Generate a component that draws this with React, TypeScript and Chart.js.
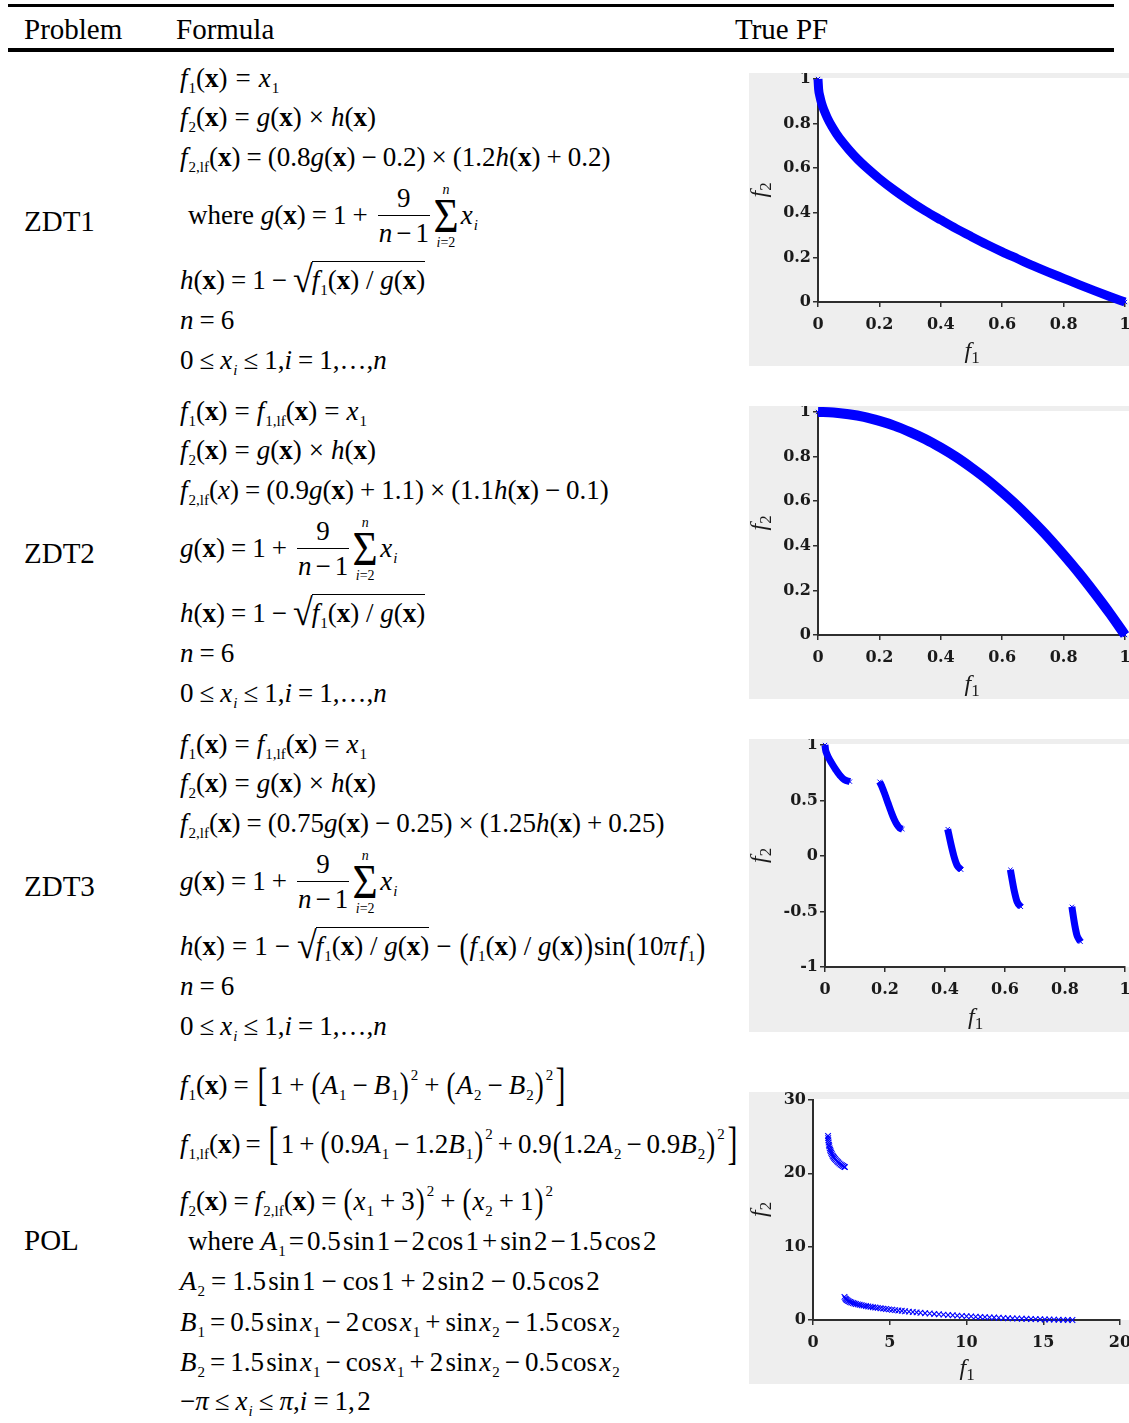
import React, { useEffect, useRef } from "react";
import { Chart, registerables } from "chart.js";

Chart.register(...registerables);

const SERIF = '"Liberation Serif", "Times New Roman", Times, serif';
const TICK_FAMILY = '"DejaVu Serif", "Liberation Serif", serif';
const BLUE = "#0000ff";
const AXIS = "#2e2e2e";
const PANEL_BG = "#eeeeee";

// ---- True Pareto fronts, sampled as (f1, f2) ----
const zdt1F1 = [0, 0.002, 0.006, 0.012, 0.02, 0.03, 0.045, 0.06, 0.08, 0.1, 0.13, 0.16, 0.2, 0.25, 0.3, 0.35, 0.4, 0.45, 0.5, 0.55, 0.6, 0.65, 0.7, 0.75, 0.8, 0.85, 0.9, 0.95, 1];
const zdt1F2 = [1, 0.955, 0.923, 0.89, 0.859, 0.827, 0.788, 0.755, 0.717, 0.684, 0.639, 0.6, 0.553, 0.5, 0.452, 0.408, 0.368, 0.329, 0.293, 0.258, 0.225, 0.194, 0.163, 0.134, 0.106, 0.078, 0.051, 0.025, 0];

const zdt2F1 = [0, 0.05, 0.1, 0.15, 0.2, 0.25, 0.3, 0.35, 0.4, 0.45, 0.5, 0.55, 0.6, 0.65, 0.7, 0.75, 0.8, 0.85, 0.9, 0.95, 1];
const zdt2F2 = [1, 0.998, 0.99, 0.978, 0.96, 0.938, 0.91, 0.878, 0.84, 0.798, 0.75, 0.698, 0.64, 0.578, 0.51, 0.438, 0.36, 0.278, 0.19, 0.098, 0];

// ZDT3 front: five disconnected pieces
const zdt3F1 = [
  [0, 0.002, 0.005, 0.01, 0.02, 0.035, 0.05, 0.065, 0.083],
  [0.182, 0.19, 0.2, 0.21, 0.22, 0.23, 0.24, 0.25, 0.258],
  [0.409, 0.42, 0.43, 0.44, 0.454],
  [0.618, 0.625, 0.63, 0.64, 0.653],
  [0.823, 0.83, 0.835, 0.84, 0.852],
];
const zdt3F2 = [
  [1, 0.955, 0.928, 0.897, 0.847, 0.782, 0.726, 0.687, 0.67],
  [0.669, 0.623, 0.553, 0.477, 0.402, 0.334, 0.282, 0.25, 0.242],
  [0.242, 0.105, -0.004, -0.082, -0.124],
  [-0.124, -0.232, -0.303, -0.409, -0.458],
  [-0.458, -0.582, -0.658, -0.716, -0.773],
];

// POL front: two pieces
const polF1 = [
  [0.98, 0.99, 1.0, 1.02, 1.04, 1.06, 1.09, 1.12, 1.15, 1.19, 1.23, 1.28, 1.33, 1.38, 1.44, 1.5, 1.57, 1.64, 1.72, 1.8, 1.88, 1.96, 2.04, 2.08],
  [2.05, 2.1, 2.15, 2.2, 2.27, 2.34, 2.42, 2.5, 2.6, 2.7, 2.8, 2.92, 3.04, 3.17, 3.3, 3.45, 3.6, 3.75, 3.9, 4.06, 4.22, 4.4, 4.58, 4.76, 4.95, 5.15, 5.35, 5.56, 5.78, 6.0, 6.25, 6.5, 6.75, 7.0, 7.3, 7.6, 7.9, 8.2, 8.5, 8.8, 9.1, 9.4, 9.7, 10.0, 10.3, 10.6, 10.9, 11.2, 11.5, 11.8, 12.1, 12.4, 12.7, 13.0, 13.3, 13.6, 13.9, 14.2, 14.5, 14.8, 15.1, 15.4, 15.7, 16.0, 16.3, 16.6, 16.9],
];
const polF2 = [
  [25.1, 24.8, 24.5, 24.2, 23.9, 23.7, 23.4, 23.2, 23.0, 22.8, 22.6, 22.4, 22.25, 22.1, 21.95, 21.8, 21.65, 21.5, 21.35, 21.2, 21.1, 21.0, 20.9, 20.85],
  [3.15, 2.95, 2.82, 2.72, 2.62, 2.54, 2.46, 2.39, 2.32, 2.25, 2.19, 2.13, 2.07, 2.01, 1.96, 1.9, 1.85, 1.8, 1.75, 1.7, 1.65, 1.6, 1.55, 1.5, 1.45, 1.4, 1.35, 1.3, 1.25, 1.2, 1.14, 1.09, 1.04, 0.99, 0.93, 0.88, 0.83, 0.78, 0.73, 0.69, 0.65, 0.6, 0.56, 0.52, 0.49, 0.45, 0.42, 0.39, 0.36, 0.33, 0.3, 0.27, 0.25, 0.22, 0.2, 0.18, 0.16, 0.14, 0.12, 0.1, 0.08, 0.07, 0.05, 0.04, 0.02, 0.01, 0],
];

// Axis ticks
const unitTicks = [0, 0.2, 0.4, 0.6, 0.8, 1];
const zdt3YTicks = [-1, -0.5, 0, 0.5, 1];
const polXTicks = [0, 5, 10, 15, 20];
const polYTicks = [0, 10, 20, 30];

// Table text
const headers = ["Problem", "Formula", "True PF"];
const problems = ["ZDT1", "ZDT2", "ZDT3", "POL"];

const CANVAS_W = 395;

function drawSubLabel(ctx: CanvasRenderingContext2D, x: number, y: number, sub: string) {
  ctx.font = `italic 24px ${SERIF}`;
  ctx.fillText("f", x, y);
  const w = ctx.measureText("f").width;
  ctx.font = `17px ${SERIF}`;
  ctx.fillText(sub, x + w, y + 5);
}

function PFChart(props: any) {
  const { top, height, f1, f2, xTicks, yTicks, area, band, marker, xTitleY, yTitleX } = props;
  const ref = useRef<HTMLCanvasElement>(null);

  useEffect(() => {
    const canvas = ref.current!;
    const datasets = f1.map((xs: number[], k: number) => ({
      data: xs.map((x, i) => ({ x, y: f2[k][i] })),
      showLine: band > 0,
      borderColor: BLUE,
      backgroundColor: BLUE,
      borderWidth: band,
      cubicInterpolationMode: "monotone",
      pointStyle: "crossRot",
      pointRadius: marker,
      pointHoverRadius: marker,
      pointBorderWidth: band > 0 ? 1 : 1.1,
      pointBorderColor: BLUE,
      clip: false,
    }));

    const plotBg = {
      id: "plotBg",
      beforeDraw(c: any) {
        const { ctx, chartArea: a } = c;
        ctx.save();
        ctx.fillStyle = "#ffffff";
        ctx.fillRect(a.left, a.top - 1, c.width - a.left, a.bottom - a.top + 1);
        ctx.restore();
      },
    };

    const axisTitles = {
      id: "axisTitles",
      afterDraw(c: any) {
        const { ctx, chartArea: a } = c;
        ctx.save();
        ctx.fillStyle = "#1a1a1a";
        ctx.textBaseline = "alphabetic";
        ctx.textAlign = "left";
        drawSubLabel(ctx, (a.left + a.right) / 2 - 7, xTitleY, "1");
        ctx.translate(yTitleX, (a.top + a.bottom) / 2);
        ctx.rotate(-Math.PI / 2);
        drawSubLabel(ctx, -7, 0, "2");
        ctx.restore();
      },
    };

    const tickFont = { family: TICK_FAMILY, weight: "bold" as const, size: 16 };
    const grid = { drawOnChartArea: false, drawTicks: true, tickLength: 5, color: AXIS, lineWidth: 1.5 };
    const border = { display: true, color: AXIS, width: 2 };
    const fmt = (v: any) => `${v}`;

    const chart = new Chart(canvas, {
      type: "scatter",
      data: { datasets },
      options: {
        animation: false,
        responsive: false,
        devicePixelRatio: 1,
        events: [],
        layout: { padding: { left: 0, top: area.top, right: CANVAS_W - area.right, bottom: 0 } },
        plugins: { legend: { display: false }, tooltip: { enabled: false } },
        scales: {
          x: {
            type: "linear",
            min: xTicks[0],
            max: xTicks[xTicks.length - 1],
            grid,
            border,
            ticks: { font: tickFont, color: "#1a1a1a", padding: 8, maxRotation: 0, autoSkip: false, callback: fmt },
            afterBuildTicks: (s: any) => {
              s.ticks = xTicks.map((v: number) => ({ value: v }));
            },
            afterFit: (s: any) => {
              s.height = height - area.bottom;
              s.paddingLeft = 0;
              s.paddingRight = 0;
            },
          },
          y: {
            type: "linear",
            min: yTicks[0],
            max: yTicks[yTicks.length - 1],
            grid,
            border,
            ticks: { font: tickFont, color: "#1a1a1a", padding: 2, autoSkip: false, callback: fmt },
            afterBuildTicks: (s: any) => {
              s.ticks = yTicks.map((v: number) => ({ value: v }));
            },
            afterFit: (s: any) => {
              s.width = area.left;
              s.paddingTop = 0;
              s.paddingBottom = 0;
            },
          },
        },
      } as any,
      plugins: [plotBg, axisTitles],
    });
    return () => chart.destroy();
  }, []);

  return (
    <div
      style={{
        position: "absolute",
        left: 749,
        top,
        width: 380,
        height,
        background: PANEL_BG,
        overflow: "hidden",
      }}
    >
      <canvas ref={ref} width={CANVAS_W} height={height} style={{ display: "block", width: CANVAS_W, height }} />
    </div>
  );
}

// ---- math typesetting helpers ----
const OpCtx = React.createContext(6);
const I = ({ children }: any) => <span style={{ fontStyle: "italic" }}>{children}</span>;
const Bx = () => <span style={{ fontWeight: "bold" }}>x</span>;
const Sub = ({ children }: any) => (
  <span style={{ fontSize: 15, position: "relative", top: 6, fontStyle: "normal", marginLeft: 1 }}>{children}</span>
);
const Sup = ({ children }: any) => (
  <span style={{ fontSize: 15, position: "relative", top: -14, marginLeft: 1 }}>{children}</span>
);
const Op = ({ children }: any) => {
  const m = React.useContext(OpCtx);
  return <span style={{ margin: `0 ${m}px` }}>{children}</span>;
};
const F = ({ n }: any) => (
  <>
    <I>f</I>
    <Sub>{n}</Sub>
  </>
);
const P = () => (
  <>
    (<Bx />)
  </>
);
const Pa = ({ children }: any) => (
  <span style={{ display: "inline-block", transform: "scaleY(1.3)", margin: "0 1px" }}>{children}</span>
);
const Br = ({ children }: any) => (
  <span style={{ display: "inline-block", transform: "scale(1.1,1.7)", margin: "0 3px", fontWeight: 300 }}>{children}</span>
);
const Frac = ({ num, den }: any) => (
  <span
    style={{
      display: "inline-flex",
      flexDirection: "column",
      alignItems: "center",
      verticalAlign: "middle",
      margin: "-28px 3px -28px 4px",
      lineHeight: "34px",
      position: "relative",
      top: -2,
    }}
  >
    <span style={{ padding: "0 3px" }}>{num}</span>
    <span style={{ borderTop: "1.5px solid #000", padding: "0 1px", alignSelf: "stretch", textAlign: "center" }}>{den}</span>
  </span>
);
const Sum = () => (
  <span
    style={{
      display: "inline-flex",
      flexDirection: "column",
      alignItems: "center",
      verticalAlign: "middle",
      margin: "-34px 3px -34px 1px",
      lineHeight: 1,
      position: "relative",
      top: -1,
    }}
  >
    <span style={{ fontSize: 14, fontStyle: "italic", lineHeight: "14px", height: 14, marginBottom: 3 }}>n</span>
    <span
      style={{
        fontSize: 48,
        lineHeight: "32px",
        height: 32,
        display: "block",
        transform: "scaleX(0.9)",
        margin: "0 -2px",
      }}
    >
      Σ
    </span>
    <span style={{ fontSize: 14, lineHeight: "14px", height: 14, marginTop: 4 }}>
      <I>i</I>=2
    </span>
  </span>
);
const Sqrt = ({ children }: any) => (
  <span style={{ whiteSpace: "nowrap" }}>
    <span
      style={{
        display: "inline-block",
        fontSize: 36,
        lineHeight: "30px",
        transform: "scaleY(1.05)",
        position: "relative",
        top: 2,
        marginRight: -1,
      }}
    >
      √
    </span>
    <span style={{ borderTop: "1.5px solid #000", paddingTop: 3 }}>{children}</span>
  </span>
);
const Xi = () => (
  <>
    <I>x</I>
    <Sub>
      <I>i</I>
    </Sub>
  </>
);
const Xn = ({ n }: any) => (
  <>
    <I>x</I>
    <Sub>{n}</Sub>
  </>
);
const V = ({ s, n }: any) => (
  <>
    <I>{s}</I>
    <Sub>{n}</Sub>
  </>
);
const H = "\u200A";

function Line({ y, x = 180, op = 6, children }: any) {
  return (
    <OpCtx.Provider value={op}>
      <div
        style={{
          position: "absolute",
          left: x,
          top: y - 20,
          height: 40,
          lineHeight: "40px",
          fontSize: 27,
          whiteSpace: "nowrap",
          fontFamily: SERIF,
          color: "#000",
        }}
      >
        {children}
      </div>
    </OpCtx.Provider>
  );
}

function Label({ x, y, text }: any) {
  return (
    <div
      style={{
        position: "absolute",
        left: x,
        top: y - 20,
        height: 40,
        lineHeight: "40px",
        fontSize: 29,
        whiteSpace: "nowrap",
        fontFamily: SERIF,
        color: "#000",
      }}
    >
      {text}
    </div>
  );
}

const ZDT_OFFSETS = [0, 39, 79, 137, 202, 242, 282];

function GDef({ where }: any) {
  return (
    <>
      {where ? "where " : null}
      <I>g</I>
      <P />
      <Op>=</Op>1<Op>+</Op>
      <Frac
        num="9"
        den={
          <>
            <I>n</I>
            <span style={{ margin: "0 4px" }}>−</span>1
          </>
        }
      />
      <Sum />
      <Xi />
    </>
  );
}

const RatioF = () => (
  <>
    <F n="1" />
    <P /> / <I>g</I>
    <P />
  </>
);

function Tail({ base }: any) {
  return (
    <>
      <Line y={base + ZDT_OFFSETS[5]}>
        <I>n</I>
        <Op>=</Op>6
      </Line>
      <Line y={base + ZDT_OFFSETS[6]}>
        0<Op>≤</Op>
        <Xi />
        <Op>≤</Op>1,<I>i</I>
        <Op>=</Op>1,…,<I>n</I>
      </Line>
    </>
  );
}

export default function App() {
  const z1 = 78;
  const z2 = 411;
  const z3 = 744;
  const pol = [1085, 1144, 1201, 1241, 1281, 1322, 1362, 1401];

  return (
    <div
      style={{
        position: "absolute",
        left: 0,
        top: 0,
        width: 1129,
        height: 1423,
        overflow: "hidden",
        background: "#fff",
        fontFamily: SERIF,
      }}
    >
      {/* rules */}
      <div style={{ position: "absolute", left: 8, top: 4, width: 1106, height: 3, background: "#000" }} />
      <div style={{ position: "absolute", left: 8, top: 48, width: 1106, height: 4, background: "#000" }} />

      <Label x={24} y={29} text={headers[0]} />
      <Label x={176} y={29} text={headers[1]} />
      <Label x={735} y={29} text={headers[2]} />

      <Label x={24} y={221} text={problems[0]} />
      <Label x={24} y={553} text={problems[1]} />
      <Label x={24} y={886} text={problems[2]} />
      <Label x={24} y={1240} text={problems[3]} />

      {/* ZDT1 */}
      <Line y={z1 + ZDT_OFFSETS[0]} op={8}>
        <F n="1" />
        <P />
        <Op>=</Op>
        <Xn n="1" />
      </Line>
      <Line y={z1 + ZDT_OFFSETS[1]} op={7}>
        <F n="2" />
        <P />
        <Op>=</Op>
        <I>g</I>
        <P />
        <Op>×</Op>
        <I>h</I>
        <P />
      </Line>
      <Line y={z1 + ZDT_OFFSETS[2]}>
        <F n="2,lf" />
        <P />
        <Op>=</Op>(0.8<I>g</I>
        <P />
        <Op>−</Op>0.2)<Op>×</Op>(1.2<I>h</I>
        <P />
        <Op>+</Op>0.2)
      </Line>
      <Line y={z1 + ZDT_OFFSETS[3]} x={188}>
        <GDef where />
      </Line>
      <Line y={z1 + ZDT_OFFSETS[4]}>
        <I>h</I>
        <P />
        <Op>=</Op>1<Op>−</Op>
        <Sqrt>
          <RatioF />
        </Sqrt>
      </Line>
      <Tail base={z1} />

      {/* ZDT2 */}
      <Line y={z2 + ZDT_OFFSETS[0]} op={7}>
        <F n="1" />
        <P />
        <Op>=</Op>
        <F n="1,lf" />
        <P />
        <Op>=</Op>
        <Xn n="1" />
      </Line>
      <Line y={z2 + ZDT_OFFSETS[1]} op={7}>
        <F n="2" />
        <P />
        <Op>=</Op>
        <I>g</I>
        <P />
        <Op>×</Op>
        <I>h</I>
        <P />
      </Line>
      <Line y={z2 + ZDT_OFFSETS[2]}>
        <F n="2,lf" />
        (<I>x</I>)<Op>=</Op>(0.9<I>g</I>
        <P />
        <Op>+</Op>1.1)<Op>×</Op>(1.1<I>h</I>
        <P />
        <Op>−</Op>0.1)
      </Line>
      <Line y={z2 + ZDT_OFFSETS[3]}>
        <GDef />
      </Line>
      <Line y={z2 + ZDT_OFFSETS[4]}>
        <I>h</I>
        <P />
        <Op>=</Op>1<Op>−</Op>
        <Sqrt>
          <RatioF />
        </Sqrt>
      </Line>
      <Tail base={z2} />

      {/* ZDT3 */}
      <Line y={z3 + ZDT_OFFSETS[0]} op={7}>
        <F n="1" />
        <P />
        <Op>=</Op>
        <F n="1,lf" />
        <P />
        <Op>=</Op>
        <Xn n="1" />
      </Line>
      <Line y={z3 + ZDT_OFFSETS[1]} op={7}>
        <F n="2" />
        <P />
        <Op>=</Op>
        <I>g</I>
        <P />
        <Op>×</Op>
        <I>h</I>
        <P />
      </Line>
      <Line y={z3 + ZDT_OFFSETS[2]}>
        <F n="2,lf" />
        <P />
        <Op>=</Op>(0.75<I>g</I>
        <P />
        <Op>−</Op>0.25)<Op>×</Op>(1.25<I>h</I>
        <P />
        <Op>+</Op>0.25)
      </Line>
      <Line y={z3 + ZDT_OFFSETS[3]}>
        <GDef />
      </Line>
      <Line y={z3 + ZDT_OFFSETS[4]} op={7}>
        <I>h</I>
        <P />
        <Op>=</Op>1<Op>−</Op>
        <Sqrt>
          <RatioF />
        </Sqrt>
        <Op>−</Op>
        <Pa>(</Pa>
        <RatioF />
        <Pa>)</Pa>sin<Pa>(</Pa>10<I>π</I>
        {H}
        <F n="1" />
        <Pa>)</Pa>
      </Line>
      <Tail base={z3} />

      {/* POL */}
      <Line y={pol[0]} op={6}>
        <F n="1" />
        <P />
        <Op>=</Op>
        <Br>[</Br>1<Op>+</Op>
        <Pa>(</Pa>
        <V s="A" n="1" />
        <Op>−</Op>
        <V s="B" n="1" />
        <Pa>)</Pa>
        <Sup>2</Sup>
        <Op>+</Op>
        <Pa>(</Pa>
        <V s="A" n="2" />
        <Op>−</Op>
        <V s="B" n="2" />
        <Pa>)</Pa>
        <Sup>2</Sup>
        <Br>]</Br>
      </Line>
      <Line y={pol[1]} op={5}>
        <F n="1,lf" />
        <P />
        <Op>=</Op>
        <Br>[</Br>1<Op>+</Op>
        <Pa>(</Pa>0.9
        <V s="A" n="1" />
        <Op>−</Op>1.2
        <V s="B" n="1" />
        <Pa>)</Pa>
        <Sup>2</Sup>
        <Op>+</Op>0.9<Pa>(</Pa>1.2
        <V s="A" n="2" />
        <Op>−</Op>0.9
        <V s="B" n="2" />
        <Pa>)</Pa>
        <Sup>2</Sup>
        <Br>]</Br>
      </Line>
      <Line y={pol[2]}>
        <F n="2" />
        <P />
        <Op>=</Op>
        <F n="2,lf" />
        <P />
        <Op>=</Op>
        <Pa>(</Pa>
        <Xn n="1" />
        <Op>+</Op>3<Pa>)</Pa>
        <Sup>2</Sup>
        <Op>+</Op>
        <Pa>(</Pa>
        <Xn n="2" />
        <Op>+</Op>1<Pa>)</Pa>
        <Sup>2</Sup>
      </Line>
      <Line y={pol[3]} x={188} op={3}>
        where <V s="A" n="1" />
        <Op>=</Op>0.5{H}sin{H}1<Op>−</Op>2{H}cos{H}1<Op>+</Op>sin{H}2<Op>−</Op>1.5{H}cos{H}2
      </Line>
      <Line y={pol[4]}>
        <V s="A" n="2" />
        <Op>=</Op>1.5{H}sin{H}1<Op>−</Op>cos{H}1<Op>+</Op>2{H}sin{H}2<Op>−</Op>0.5{H}cos{H}2
      </Line>
      <Line y={pol[5]} op={5}>
        <V s="B" n="1" />
        <Op>=</Op>0.5{H}sin{H}
        <Xn n="1" />
        <Op>−</Op>2{H}cos{H}
        <Xn n="1" />
        <Op>+</Op>sin{H}
        <Xn n="2" />
        <Op>−</Op>1.5{H}cos{H}
        <Xn n="2" />
      </Line>
      <Line y={pol[6]} op={5}>
        <V s="B" n="2" />
        <Op>=</Op>1.5{H}sin{H}
        <Xn n="1" />
        <Op>−</Op>cos{H}
        <Xn n="1" />
        <Op>+</Op>2{H}sin{H}
        <Xn n="2" />
        <Op>−</Op>0.5{H}cos{H}
        <Xn n="2" />
      </Line>
      <Line y={pol[7]}>
        −<I>π</I>
        <Op>≤</Op>
        <Xi />
        <Op>≤</Op>
        <I>π</I>,<I>i</I>
        <Op>=</Op>1,{H}2
      </Line>

      {/* Pareto-front panels */}
      <PFChart
        top={73}
        height={293}
        f1={[zdt1F1]}
        f2={[zdt1F2]}
        xTicks={unitTicks}
        yTicks={unitTicks}
        area={{ left: 69, top: 6, right: 376, bottom: 229 }}
        band={9}
        marker={3}
        xTitleY={285}
        yTitleX={17}
      />
      <PFChart
        top={406}
        height={293}
        f1={[zdt2F1]}
        f2={[zdt2F2]}
        xTicks={unitTicks}
        yTicks={unitTicks}
        area={{ left: 69, top: 6, right: 376, bottom: 229 }}
        band={10}
        marker={3}
        xTitleY={285}
        yTitleX={17}
      />
      <PFChart
        top={739}
        height={293}
        f1={zdt3F1}
        f2={zdt3F2}
        xTicks={unitTicks}
        yTicks={zdt3YTicks}
        area={{ left: 76, top: 6, right: 376, bottom: 228 }}
        band={7}
        marker={3}
        xTitleY={285}
        yTitleX={17}
      />
      <PFChart
        top={1092}
        height={292}
        f1={polF1}
        f2={polF2}
        xTicks={polXTicks}
        yTicks={polYTicks}
        area={{ left: 64, top: 8, right: 371, bottom: 228 }}
        band={0}
        marker={4}
        xTitleY={283}
        yTitleX={17}
      />
    </div>
  );
}
